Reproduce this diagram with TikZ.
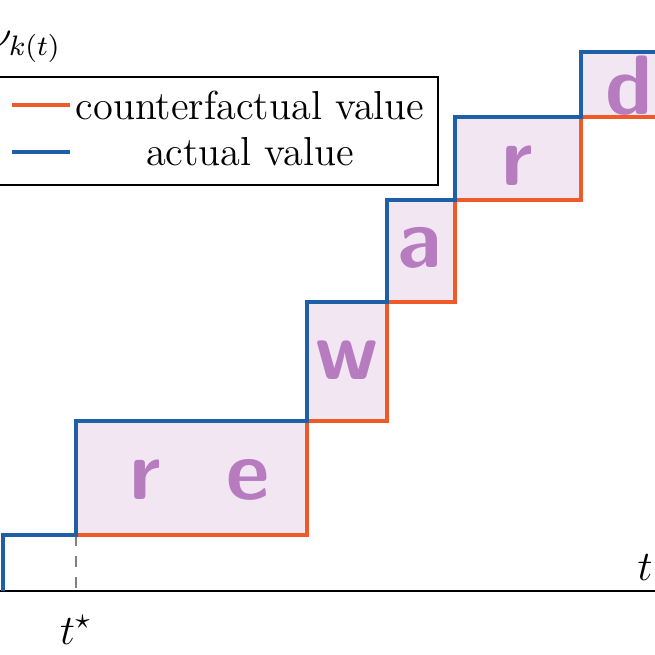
\documentclass[tikz,border=0pt]{standalone}
\usepackage{amsmath}
\usetikzlibrary{positioning}
\definecolor{cfOrange}{HTML}{F05A28}
\definecolor{acBlue}{HTML}{1F5FA8}
\definecolor{lettr}{HTML}{B77CC0}
\definecolor{gapfill}{HTML}{F1E6F1}
\begin{document}
\begin{tikzpicture}[x=0.01cm,y=-0.01cm,
    actual/.style={draw=acBlue,line width=1.4pt},
    counter/.style={draw=cfOrange,line width=1.4pt},
    Letter/.style={text=lettr,font=\fontsize{24}{24}\selectfont\sffamily\bfseries},
    LabelStyle/.style={font=\fontsize{11.5}{13}\selectfont}]
		\useasboundingbox (0,0) rectangle (655,655);
		\clip (0,0) rectangle (655,655);
		% gap between the two values
		\fill[gapfill] (76,535) -- (76,421) -- (307,421) -- (307,302) -- (387,302) -- (387,200)
			-- (455,200) -- (455,117) -- (581,117) -- (581,52) -- (660,52) -- (660,117)
			-- (581,117) -- (581,200) -- (455,200) -- (455,302) -- (387,302) -- (387,421)
			-- (307,421) -- (307,535) -- cycle;
		% axes
		\coordinate (O) at (0,591);
		\coordinate (E) at (660,591);
		\draw[line width=0.6pt] (O) -- (E);
		\node[LabelStyle] (t) at (645,568) {$t$};
		\node[LabelStyle] (ts) at (76,630) {$t^{\star}$};
		\node[LabelStyle] (nu) at (25,47) {$\nu_{k(t)}$};
		\coordinate (d1) at (76,535);
		\coordinate (d2) at (76,591);
		\draw[gray,dashed,line width=0.6pt] (d1) -- (d2);
		% counterfactual value
		\draw[counter] (76,535) -- (307,535) -- (307,421) -- (387,421) -- (387,302) -- (455,302)
			-- (455,200) -- (581,200) -- (581,117) -- (660,117);
		% actual value
		\draw[actual] (3,591) -- (3,535) -- (76,535) -- (76,421) -- (307,421) -- (307,302)
			-- (387,302) -- (387,200) -- (455,200) -- (455,117) -- (581,117) -- (581,52) -- (660,52);
		% letters
		\node[Letter] (l1) at (145,480) {r};
		\node[Letter] (l2) at (248,480) {e};
		\node[Letter] (l3) at (347,360) {w};
		\node[Letter] (l4) at (420,248) {a};
		\node[Letter] (l5) at (517,166) {r};
		\node[Letter] (l6) at (629,86) {d};
		% legend
		\draw[line width=0.8pt,fill=white] (-5,77) rectangle (438,185);
		\coordinate (o1) at (12,105);
		\coordinate (o2) at (70,105);
		\coordinate (b1) at (12,152);
		\coordinate (b2) at (70,152);
		\draw[counter] (o1) -- (o2);
		\draw[actual] (b1) -- (b2);
		\node[LabelStyle] (cv) at (250,105) {counterfactual value};
		\node[LabelStyle] (av) at (250,152) {actual value};
\end{tikzpicture}
\end{document}
